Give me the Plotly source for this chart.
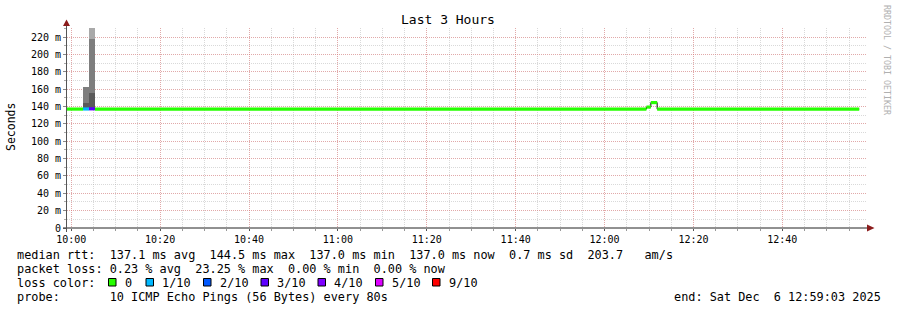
import plotly.graph_objects as go
import pandas as pd

# ---------------- data ----------------
DAY = "2025-12-06 "
x_start = DAY + "09:59:03"
x_end = DAY + "12:59:03"
y_top = 230.4

# median rtt (ms) as step intervals: boundaries, values, loss bucket index
med_t = ["09:59:03", "10:02:40", "10:04:00", "10:05:20",
         "12:09:25", "12:10:25", "12:11:50", "12:57:18"]
med_v = [137.0, 137.1, 137.3, 137.0, 139.3, 144.5, 137.0]
med_loss = [0, 1, 3, 0, 0, 0, 0]

# smoke (ping spread) layers
smoke_t0 = ["10:02:40", "10:02:40", "10:04:00", "10:04:00", "10:04:00"]
smoke_lo = [137.1, 143.6, 137.3, 155.9, 217.7]
smoke_hi = [143.6, 162.8, 155.9, 217.7, 230.4]
smoke_level = [0, 1, 0, 1, 2]
step_seconds = 80

loss_labels = ["0", "1/10", "2/10", "3/10", "4/10", "5/10", "9/10"]

y_ticks = [0, 20, 40, 60, 80, 100, 120, 140, 160, 180, 200, 220]
x_ticks = ["10:00", "10:20", "10:40", "11:00", "11:20", "11:40",
           "12:00", "12:20", "12:40"]

stat_lines = [
    "median rtt:  137.1 ms avg  144.5 ms max  137.0 ms min  137.0 ms now  0.7 ms sd  203.7   am/s",
    "packet loss: 0.23 % avg  23.25 % max  0.00 % min  0.00 % now",
    "loss color:",
    "probe:       10 ICMP Echo Pings (56 Bytes) every 80s",
]
end_text = "end: Sat Dec  6 12:59:03 2025"
title_text = "Last 3 Hours"
y_title = "Seconds"
watermark = "RRDTOOL / TOBI OETIKER"

# ---------------- styles ----------------
loss_colors = ["#26ff00", "#00b8ff", "#0059ff", "#5e00ff", "#7e00ff", "#dd00ff", "#ff0000"]
smoke_shades = ["#5a5a5a", "#7e7e7e", "#a9a9a9"]
MONO = "DejaVu Sans Mono"
LEG = 11.85
W, H = 897, 310
L, R, T, B = 67, 30, 28, 82
PW, PH = W - L - R, H - T - B


def px(x):
    return (x - L) / PW


def py(y):
    return (H - B - y) / PH


def nb(s):
    return s.replace(" ", "\u00a0")


fig = go.Figure()

# smoke bars
ts = [pd.Timestamp(DAY + t) + pd.Timedelta(seconds=step_seconds / 2) for t in smoke_t0]
fig.add_trace(go.Bar(
    x=ts, y=[h - l for h, l in zip(smoke_hi, smoke_lo)], base=smoke_lo,
    width=step_seconds * 1000,
    marker=dict(color=[smoke_shades[k] for k in smoke_level], line=dict(width=0)),
    hoverinfo="skip", showlegend=False))

# black step outline of the median
fig.add_trace(go.Scatter(
    x=[DAY + t for t in med_t], y=med_v + [med_v[-1]], mode="lines",
    line=dict(color="#000000", width=1, shape="hv"),
    hoverinfo="skip", showlegend=False))

# coloured median segments grouped by loss colour
for ci in sorted(set(med_loss)):
    xs, ys = [], []
    for i, v in enumerate(med_v):
        if med_loss[i] == ci:
            xs += [DAY + med_t[i], DAY + med_t[i + 1], None]
            ys += [v, v, None]
    fig.add_trace(go.Scatter(
        x=xs, y=ys, mode="lines",
        line=dict(color=loss_colors[ci], width=3.2),
        hoverinfo="skip", showlegend=False, connectgaps=False))

shapes = []
annotations = []

# axes lines with arrows
axis_col = "#222222"
arrow_col = "#8b1c1c"
shapes.append(dict(type="line", xref="paper", yref="paper",
                   x0=px(63), x1=px(870), y0=py(228), y1=py(228),
                   line=dict(color=axis_col, width=1)))
shapes.append(dict(type="line", xref="paper", yref="paper",
                   x0=px(66.5), x1=px(66.5), y0=py(232), y1=py(23),
                   line=dict(color="#555555", width=1)))
shapes.append(dict(type="path", xref="paper", yref="paper",
                   path=f"M {px(867)},{py(224.5)} L {px(874.5)},{py(228)} L {px(867)},{py(231.5)} Z",
                   fillcolor=arrow_col, line=dict(width=0)))
shapes.append(dict(type="path", xref="paper", yref="paper",
                   path=f"M {px(63)},{py(26)} L {px(66.5)},{py(19.5)} L {px(70)},{py(26)} Z",
                   fillcolor=arrow_col, line=dict(width=0)))

# loss colour legend
box_x = [108.5, 146, 203.5, 261, 318, 375.5, 432.5]
for i, lab in enumerate(loss_labels):
    shapes.append(dict(type="rect", xref="paper", yref="paper",
                       x0=px(box_x[i]), x1=px(box_x[i] + 7.5),
                       y0=py(278.5), y1=py(286),
                       fillcolor=loss_colors[i], line=dict(color="#000000", width=1)))
    annotations.append(dict(text=nb(lab), xref="paper", yref="paper",
                            x=px(box_x[i] + 14), y=py(282.5),
                            xanchor="left", yanchor="middle", showarrow=False,
                            font=dict(family=MONO, size=LEG, color="#000")))

row_y = [254.5, 268.5, 282.5, 296.5]
for txt, yy in zip(stat_lines, row_y):
    annotations.append(dict(text=nb(txt), xref="paper", yref="paper",
                            x=px(15), y=py(yy), xanchor="left", yanchor="middle",
                            showarrow=False, font=dict(family=MONO, size=LEG, color="#000")))
annotations.append(dict(text=nb(end_text), xref="paper", yref="paper",
                        x=px(883), y=py(296.5), xanchor="right", yanchor="middle",
                        showarrow=False, font=dict(family=MONO, size=LEG, color="#000")))
annotations.append(dict(text=title_text, xref="paper", yref="paper",
                        x=px(447.5), y=py(19), xanchor="center", yanchor="middle",
                        showarrow=False, font=dict(family=MONO, size=13, color="#000")))
annotations.append(dict(text=y_title, xref="paper", yref="paper",
                        x=px(11), y=py(127), xanchor="center", yanchor="middle",
                        textangle=-90, showarrow=False,
                        font=dict(family=MONO, size=11.5, color="#000")))
annotations.append(dict(text=nb(watermark), xref="paper", yref="paper",
                        x=px(886.5), y=py(59.5), xanchor="center", yanchor="middle",
                        textangle=90, showarrow=False,
                        font=dict(family=MONO, size=8.3, color="#b0b0b0")))

major_grid = "rgba(235,110,110,0.45)"
minor_grid = "rgba(160,160,160,0.4)"

fig.update_layout(
    width=W, height=H, autosize=False,
    margin=dict(l=L, r=R, t=T, b=B, pad=0),
    paper_bgcolor="#ffffff", plot_bgcolor="#ffffff",
    barmode="overlay", bargap=0, showlegend=False,
    shapes=shapes, annotations=annotations,
    font=dict(family=MONO, color="#000"),
    xaxis=dict(
        type="date", range=[x_start, x_end],
        tickvals=[DAY + t for t in x_ticks], ticktext=x_ticks,
        tickfont=dict(family=MONO, size=10, color="#000"),
        showgrid=True, gridcolor=major_grid, griddash="1px,1px", gridwidth=1,
        ticks="outside", ticklen=2, tickcolor="#555",
        minor=dict(dtick=5 * 60 * 1000, tick0=DAY + "10:00", showgrid=True,
                   gridcolor=minor_grid, griddash="1px,1px", gridwidth=1,
                   ticks="outside", ticklen=2, tickcolor="#999"),
        zeroline=False, showline=False, fixedrange=True,
    ),
    yaxis=dict(
        range=[0, y_top],
        tickvals=y_ticks, ticktext=["0" if v == 0 else f"{v} m" for v in y_ticks],
        tickfont=dict(family=MONO, size=10, color="#000"),
        showgrid=True, gridcolor=major_grid, griddash="1px,1px", gridwidth=1,
        ticks="outside", ticklen=3, tickcolor="#888",
        minor=dict(dtick=10, tick0=0, showgrid=True,
                   gridcolor=minor_grid, griddash="1px,1px", gridwidth=1,
                   ticks="outside", ticklen=2, tickcolor="#aaa"),
        zeroline=False, showline=False, fixedrange=True,
    ),
)

fig.write_html("out.html", config=dict(displayModeBar=False))
